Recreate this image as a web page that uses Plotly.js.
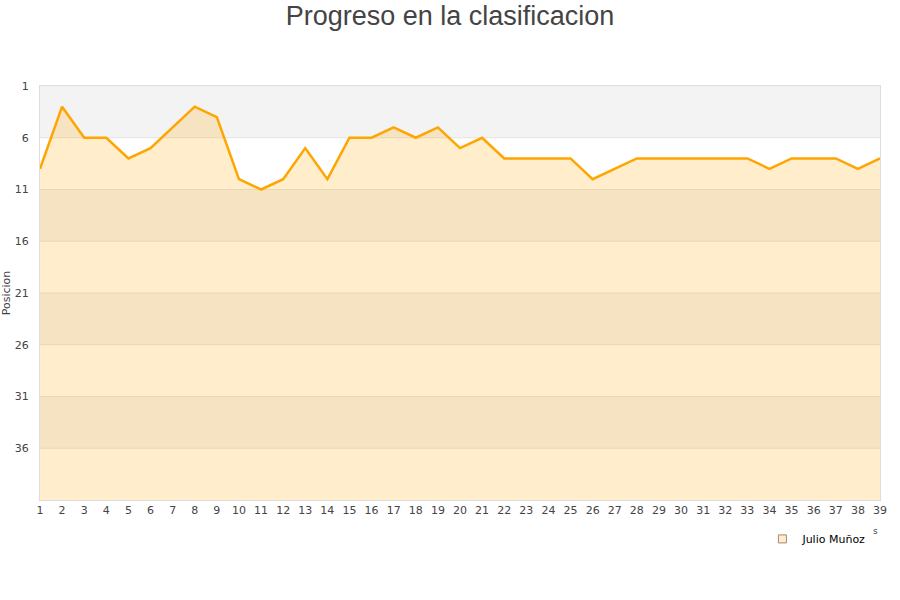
<!DOCTYPE html>
<html>
<head>
<meta charset="utf-8">
<script src="https://cdn.plot.ly/plotly-3.0.1.min.js"></script>
<style>body{margin:0;background:#fff}#chart{width:900px;height:600px}</style>
</head>
<body>
<div id="chart"></div>
<script>
var jornadas = [1,2,3,4,5,6,7,8,9,10,11,12,13,14,15,16,17,18,19,20,21,22,23,24,25,26,27,28,29,30,31,32,33,34,35,36,37,38,39];
var posicion = [9,3,6,6,8,7,5,3,4,10,11,10,7,10,6,6,5,6,5,7,6,8,8,8,8,10,9,8,8,8,8,8,8,9,8,8,8,9,8];
var yTicks = [1,6,11,16,21,26,31,36];
var bandEdges = [1,6,11,16,21,26,31,36,41];
var seriesName = "Julio Muñoz";

var baseline = jornadas.map(function(){ return 41; });

var shapes = [];
for (var i = 0; i < bandEdges.length - 1; i++) {
  shapes.push({type:'rect', xref:'paper', yref:'y', x0:0, x1:1, y0:bandEdges[i], y1:bandEdges[i+1],
    fillcolor: (i % 2 === 0) ? '#f3f3f3' : '#ffffff', line:{width:0}, layer:'below'});
}
for (var j = 1; j < bandEdges.length - 1; j++) {
  shapes.push({type:'line', xref:'paper', yref:'y', x0:0, x1:1, y0:bandEdges[j], y1:bandEdges[j],
    line:{color:'rgba(200,200,200,0.45)', width:1}, layer:'below'});
}

var traces = [
  {x: jornadas, y: baseline, mode:'lines', line:{width:0, color:'rgba(0,0,0,0)'}, showlegend:false, hoverinfo:'skip'},
  {x: jornadas, y: posicion, name: seriesName, mode:'lines', fill:'tonexty', showlegend:false,
   fillcolor:'rgba(255,165,0,0.2)', line:{color:'#ffa500', width:2.5}},
  {x:[null], y:[null], name: seriesName, mode:'markers', showlegend:true,
   marker:{symbol:'square', size:8, color:'#ffedcc', line:{color:'#a08a70', width:1}}}
];

var layout = {
  width:900, height:600,
  margin:{l:40, r:20, t:86, b:100},
  paper_bgcolor:'#ffffff', plot_bgcolor:'rgba(0,0,0,0)',
  title:{text:'Progreso en la clasificacion', x:0.5, xanchor:'center', y:0.99, yanchor:'top',
    font:{family:'Liberation Sans, Arial, sans-serif', size:27, color:'#444'}},
  xaxis:{range:[1,39], tickmode:'array', tickvals:jornadas, ticktext:jornadas.map(String),
    showgrid:false, zeroline:false, showline:true, mirror:true, linecolor:'#dddddd', linewidth:1,
    ticks:'', tickfont:{family:'DejaVu Sans, sans-serif', size:11, color:'#444'}},
  yaxis:{range:[41,1], tickmode:'array', tickvals:yTicks, ticktext:yTicks.map(String),
    showgrid:false, zeroline:false, showline:true, mirror:true, linecolor:'#dddddd', linewidth:1,
    ticks:'outside', ticklen:8, tickcolor:'rgba(0,0,0,0)',
    tickfont:{family:'DejaVu Sans, sans-serif', size:11, color:'#444'},
    title:{text:'Posicion', standoff:8, font:{family:'DejaVu Sans, sans-serif', size:11, color:'#444'}}},
  shapes: shapes,
  showlegend:true,
  legend:{orientation:'h', x:0.86, xanchor:'left', y:-0.094, yanchor:'middle',
    itemwidth:30, font:{family:'DejaVu Sans, sans-serif', size:11, color:'#000'}, bgcolor:'rgba(0,0,0,0)'},
  annotations:[{text:'s', xref:'paper', yref:'paper', x:(875-40)/840, y:-(531-500)/414, showarrow:false,
    xanchor:'center', yanchor:'middle', font:{family:'DejaVu Sans, sans-serif', size:9, color:'#444'}}]
};

Plotly.newPlot('chart', traces, layout, {displayModeBar:false, staticPlot:true});
</script>
</body>
</html>
